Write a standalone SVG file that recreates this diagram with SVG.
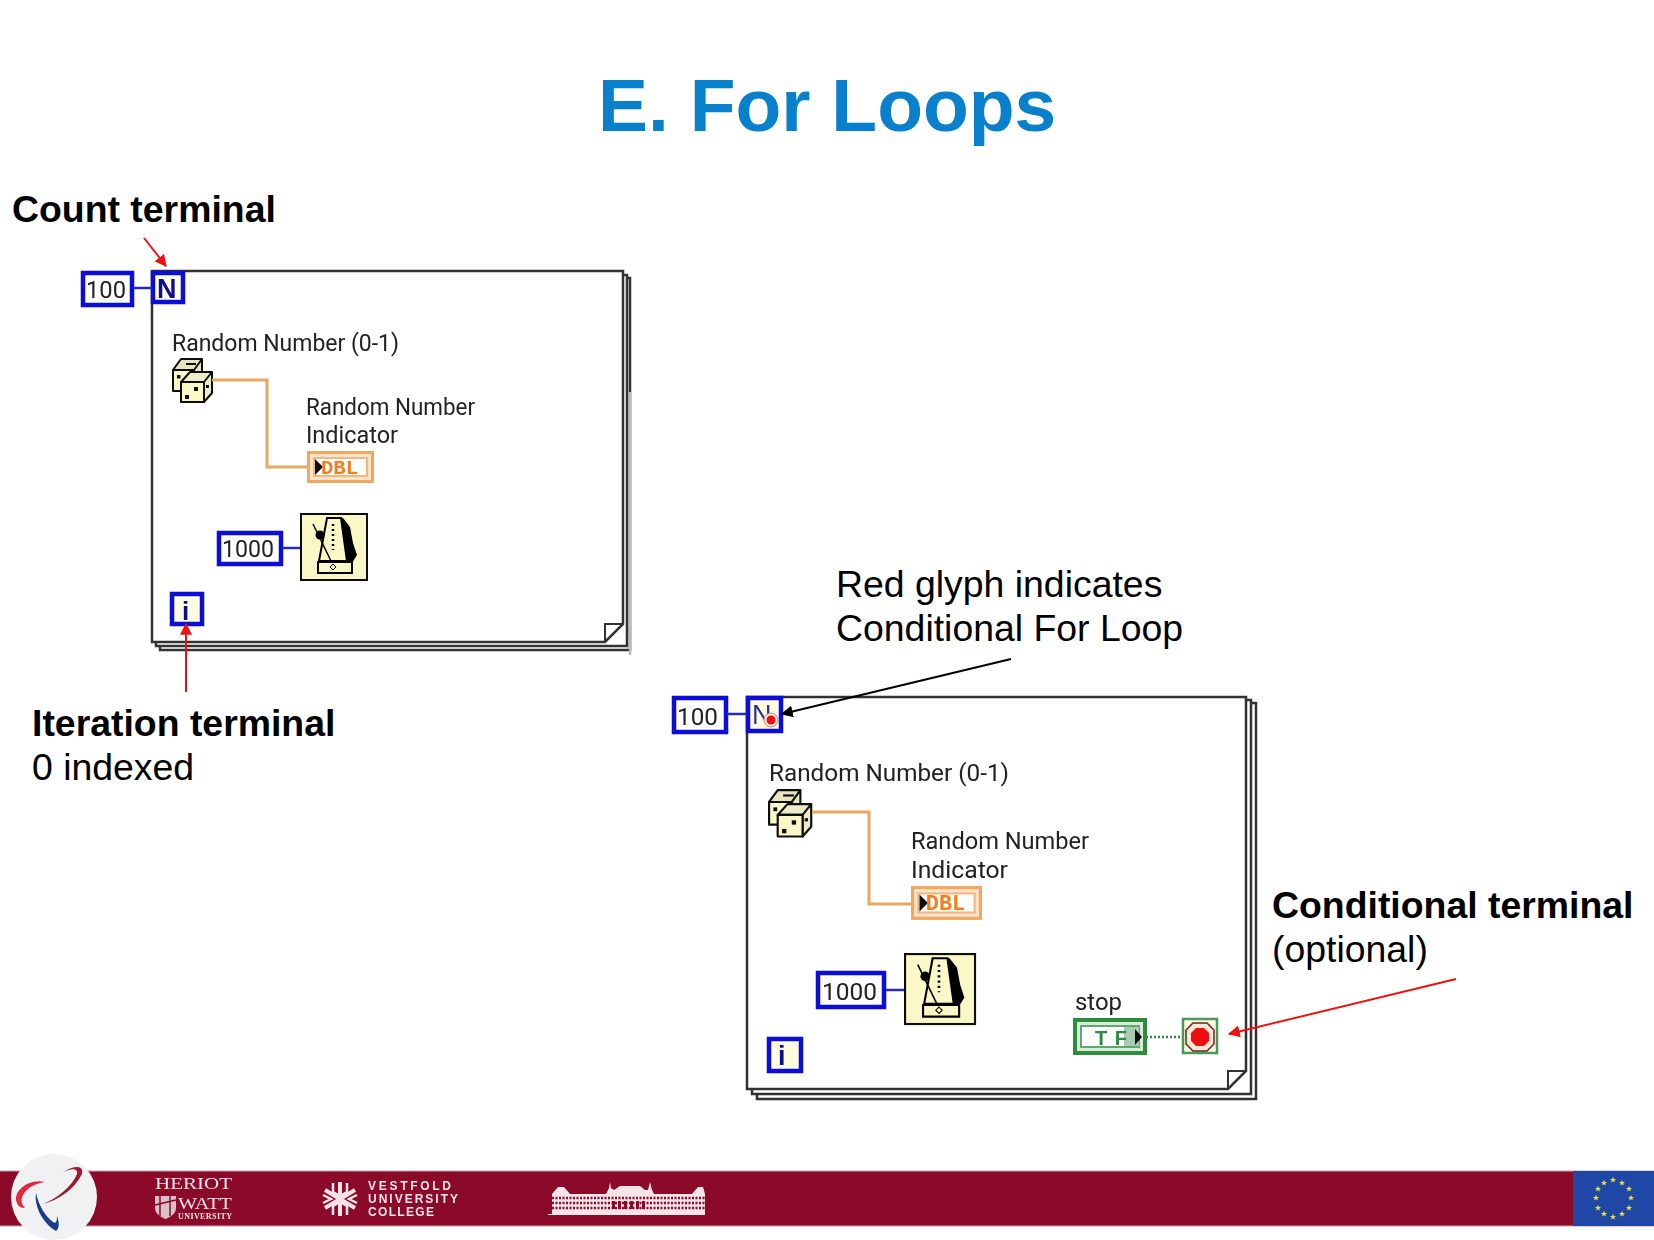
<svg xmlns="http://www.w3.org/2000/svg" width="1654" height="1240" viewBox="0 0 1654 1240">
<style>
.h{font-family:"Liberation Sans",Arial,sans-serif;font-size:37.4px;fill:#000}
.b{font-weight:bold}
.t{font-family:"Liberation Sans",Arial,sans-serif;font-size:75px;font-weight:bold;fill:#0880cc}
.lv{font-family:Roboto,"Noto Sans",sans-serif;font-size:23px;fill:#222}
.lv2{font-family:Roboto,"Noto Sans",sans-serif;font-size:24px;fill:#222}
.num{fill:#fff;stroke:#0808d8;stroke-width:4.5}
.tm{fill:#fffde0;stroke:#0808d8;stroke-width:4.5}
.wb{stroke:#2a2ab8;stroke-width:2.5;fill:none}
.wo{stroke:#e8a860;stroke-width:3;fill:none}
.fr{fill:none;stroke:#333;stroke-width:2.5}
.red{stroke:#f01010;stroke-width:2;fill:none}
.blk{stroke:#000;stroke-width:2;fill:none}
.wt{fill:#f4e4e8}
.hw{font-family:"Liberation Serif",serif;fill:#f4e4e8}
.vu{font-family:"Liberation Sans",sans-serif;font-weight:bold;fill:#f4e4e8;font-size:12px}
.star{fill:#e8e040}
</style>
<defs>
<filter id="soft" x="-2%" y="-2%" width="104%" height="104%"><feGaussianBlur stdDeviation="0.45"/></filter>
<marker id="ar2" viewBox="0 0 10 10" refX="9" refY="5" markerWidth="12" markerHeight="12" markerUnits="userSpaceOnUse" orient="auto"><path d="M0 0L10 5L0 10z" fill="#f01010"/></marker>
<marker id="ab" viewBox="0 0 10 10" refX="9" refY="5" markerWidth="12" markerHeight="12" markerUnits="userSpaceOnUse" orient="auto"><path d="M0 0L10 5L0 10z" fill="#000"/></marker>
<path id="st" class="star" d="M0 -3.2L.9 -1H3.100L1.300 .4L2 2.600L0 1.300L-2 2.600L-1.300 .4L-3.100 -1H-.9z"/>
<g id="dice" stroke="#111" stroke-width="2" stroke-linejoin="round">
<path d="M1 12L9 1H30L22 12zM22 12L30 1V22L22 33z" fill="#e8e4c0"/><rect x="1" y="12" width="21" height="21" fill="#fbf8c8"/>
<path d="M9 24L18 14H40L32 24zM32 24L40 14V35L32 44z" fill="#eeeacc"/><rect x="9" y="24" width="23" height="20" fill="#fbf8c8"/>
<g fill="#111" stroke="none"><rect x="13" y="37" width="4" height="4"/><rect x="22" y="29" width="4" height="4"/><rect x="5" y="17" width="3.500" height="3.500"/><rect x="34" y="27" width="3" height="3"/><rect x="14" y="5" width="10" height="2"/></g>
</g>
<g id="metro">
<rect x="1" y="1" width="66" height="66" fill="#fbf8c8" stroke="#111" stroke-width="2"/>
<path d="M26 5H43L50 14L53 30L57 42L52 50H44z" fill="#000"/>
<path d="M27 5H41L47 48H19z" fill="#fbf8c8" stroke="#000" stroke-width="2"/>
<path d="M13 11L31 48" stroke="#000" stroke-width="1.500"/>
<circle cx="20" cy="22" r="4.500" fill="#000"/>
<path d="M33 11V37" stroke="#000" stroke-width="2.500" stroke-dasharray="2 3"/>
<path d="M18 49H52V60H18z" fill="#fbf8c8" stroke="#000" stroke-width="2"/>
<path d="M33 51L36 54L33 57L30 54z" fill="none" stroke="#000"/>
</g>
<g id="dbl">
<rect x="1.500" y="1.500" width="64" height="29" fill="#fde3c8" stroke="#f0a860" stroke-width="3"/>
<rect x="7" y="7" width="53" height="18" fill="#fff" stroke="#f0b880" stroke-width="2"/>
<path d="M8 8L16 16L8 24z" fill="#111"/>
<text x="14" y="23" font-family="Liberation Mono,monospace" font-size="20" font-weight="bold" fill="#f08020" textLength="37" lengthAdjust="spacingAndGlyphs">DBL</text>
</g>
</defs>

<text class="t" x="598" y="131">E. For Loops</text>
<text class="h b" x="12" y="222">Count terminal</text>
<text class="h b" x="32" y="736">Iteration terminal</text>
<text class="h" x="32" y="780">0 indexed</text>
<text class="h" x="836" y="597">Red glyph indicates</text>
<text class="h" x="836" y="641">Conditional For Loop</text>
<text class="h b" x="1272" y="918">Conditional terminal</text>
<text class="h" x="1272" y="962">(optional)</text>

<g id="loop1" filter="url(#soft)">
<path class="fr" d="M623 275H627V646H156V642"/>
<path class="fr" d="M627 278H630V650H160V646"/>
<path d="M630 392V655" stroke="#bbb" stroke-width="2.500" fill="none"/>
<path class="fr" d="M152 271H623V624L605 642H152z" fill="#fff"/>
<path d="M605 641V624H622" fill="none" stroke="#333" stroke-width="2"/>
<g id="l1-num100"><rect class="num" x="83" y="273" width="49" height="32"/><text class="lv" x="86" y="298" textLength="40" lengthAdjust="spacingAndGlyphs">100</text></g>
<g id="l1-N"><rect class="tm" x="153" y="273" width="30" height="29"/><text x="157" y="298" font-family="Liberation Sans,sans-serif" font-weight="bold" font-size="27" fill="#101090">N</text></g>
<g id="l1-dice"><text class="lv" x="172" y="351" textLength="227" lengthAdjust="spacingAndGlyphs">Random Number (0-1)</text><use href="#dice" transform="translate(172,358)"/></g>
<g id="l1-ind"><text class="lv" x="306" y="415" textLength="169" lengthAdjust="spacingAndGlyphs">Random Number</text><text class="lv" x="306" y="443" textLength="92" lengthAdjust="spacingAndGlyphs">Indicator</text><use href="#dbl" transform="translate(307,451)"/></g>
<g id="l1-1000"><rect class="num" x="219" y="533" width="62" height="31"/><text class="lv" x="222" y="557" textLength="52" lengthAdjust="spacingAndGlyphs">1000</text></g>
<g id="l1-wait"><use href="#metro" transform="translate(300,513)"/></g>
<g id="l1-i"><rect class="tm" x="172" y="594" width="30" height="30"/><text x="182" y="620" font-family="Liberation Sans,sans-serif" font-weight="bold" font-size="26" fill="#101090">i</text></g>
</g>

<g id="loop2" filter="url(#soft)">
<path class="fr" d="M1246 700H1251V1094H752V1089"/>
<path class="fr" d="M1251 703H1256V1099H757V1094"/>
<path class="fr" d="M747 697H1246V1071L1228 1089H747z" fill="#fff"/>
<path d="M1228 1088V1071H1246" fill="none" stroke="#333" stroke-width="2"/>
<g id="l2-num100"><rect class="num" x="674" y="698" width="52" height="34"/><text class="lv2" x="677" y="725" textLength="41" lengthAdjust="spacingAndGlyphs">100</text></g>
<g id="l2-N"><rect class="tm" x="748" y="698" width="33" height="33"/><text x="752" y="724" font-family="Liberation Sans,sans-serif" font-size="27" fill="#303090">N</text><circle cx="771" cy="720" r="7" fill="#f8e8d8" stroke="#b09090"/><circle cx="771" cy="720" r="4.500" fill="#f01010"/></g>
<g id="l2-dice"><text class="lv2" x="769" y="781" textLength="240" lengthAdjust="spacingAndGlyphs">Random Number (0-1)</text><use href="#dice" transform="translate(768,789) scale(1.08)"/></g>
<g id="l2-ind"><text class="lv2" x="911" y="849" textLength="178" lengthAdjust="spacingAndGlyphs">Random Number</text><text class="lv2" x="911" y="878" textLength="97" lengthAdjust="spacingAndGlyphs">Indicator</text><use href="#dbl" transform="translate(911,886) scale(1.06,1.06)"/></g>
<g id="l2-1000"><rect class="num" x="818" y="973" width="66" height="34"/><text class="lv2" x="822" y="1000" textLength="55" lengthAdjust="spacingAndGlyphs">1000</text></g>
<g id="l2-wait"><use href="#metro" transform="translate(904,953) scale(1.06)"/></g>
<g id="l2-i"><rect class="tm" x="769" y="1039" width="32" height="32" fill="#fff"/><text x="778" y="1065" font-family="Liberation Sans,sans-serif" font-weight="bold" font-size="27" fill="#101090">i</text></g>
<g id="l2-stop"><text class="lv2" x="1075" y="1010" textLength="47" lengthAdjust="spacingAndGlyphs">stop</text>
<rect x="1075" y="1020" width="70" height="33" fill="#d8ecd8" stroke="#2e8b40" stroke-width="4"/>
<rect x="1081" y="1026" width="58" height="21" fill="#fff" stroke="#60a870" stroke-width="2"/>
<rect x="1124" y="1027" width="15" height="19" fill="#a8cdb0"/>
<text x="1095" y="1045" font-family="Liberation Sans,sans-serif" font-weight="bold" font-size="20" fill="#2e8b40" textLength="32">TF</text>
<path d="M1135 1029L1142 1037L1135 1045z" fill="#111"/></g>
<g id="l2-cond"><rect x="1183" y="1019" width="34" height="34" fill="#fffde0" stroke="#4a9a5a" stroke-width="2.500"/>
<path d="M1193 1023H1207L1214 1030V1044L1207 1051H1193L1186 1044V1030z" fill="#fbe8d8" stroke="#702020" stroke-width="1.500"/>
<path d="M1196 1028H1204L1209 1033V1041L1204 1046H1196L1191 1041V1033z" fill="#f01010"/></g>
</g>

<g id="connectors">
<path class="wb" d="M133 288H152"/>
<path class="wo" d="M212 380H267V467H307"/>
<path class="wb" d="M282 548H300"/>
<path class="wb" d="M727 714H747"/>
<path class="wo" d="M812 812H869V904H911"/>
<path class="wb" d="M886 990H904"/>
<path d="M1146 1037H1182" stroke="#2e8b40" stroke-width="2.500" stroke-dasharray="2 2" fill="none"/>
<path class="red" marker-end="url(#ar2)" d="M144 238L166 266"/>
<path class="red" marker-end="url(#ar2)" d="M186 692V624"/>
<path class="blk" marker-end="url(#ab)" d="M1011 659L782 714"/>
<path class="red" marker-end="url(#ar2)" d="M1456 979L1229 1034"/>
</g>

<g id="footer">
<rect x="0" y="1171" width="1654" height="55" fill="#8b0a2a"/>
<path d="M0 1171H1654M0 1226H1654" stroke="#c8a0a8" stroke-width="1"/>
<rect x="1573" y="1171" width="81" height="55" fill="#1f47a5"/>
<g id="eu">
<use href="#st" x="1613" y="1180"/><use href="#st" x="1622" y="1183"/><use href="#st" x="1629" y="1189"/><use href="#st" x="1631" y="1198"/><use href="#st" x="1629" y="1208"/><use href="#st" x="1622" y="1214"/><use href="#st" x="1613" y="1217"/><use href="#st" x="1604" y="1214"/><use href="#st" x="1598" y="1208"/><use href="#st" x="1596" y="1198"/><use href="#st" x="1598" y="1189"/><use href="#st" x="1604" y="1183"/>
</g>
<g id="logo">
<circle cx="54" cy="1197" r="43" fill="#f0f1f3"/>
<path d="M43 1204C58 1200 74 1190 82 1174C84 1166 76 1164 63 1172C72 1168 78 1168 77 1174C72 1186 58 1198 43 1204z" fill="#9a1c30"/>
<path d="M45 1182C28 1178 12 1192 17 1203C18 1207 22 1208 25 1208C20 1203 20 1196 28 1189C33 1185 38 1183 45 1182z" fill="#e02840"/>
<path d="M36 1193C34 1208 44 1224 56 1231C60 1228 59 1222 57 1216C57 1222 56 1224 53 1222C45 1216 39 1206 36 1193z" fill="#1c3a8c"/>
</g>
<g id="hw">
<text class="hw" x="155" y="1189" font-size="17" textLength="77" lengthAdjust="spacingAndGlyphs">HERIOT</text>
<text class="hw" x="178" y="1208.500" font-size="17" textLength="54" lengthAdjust="spacingAndGlyphs">WATT</text>
<text class="hw" x="178" y="1219" font-size="8" font-weight="bold" textLength="54">UNIVERSITY</text>
<path d="M155 1196H176V1208C176 1214 170 1217 165.500 1219C161 1217 155 1214 155 1208z" fill="#d8c0c8"/>
<path d="M155 1205L176 1200M160 1196V1216M170 1196V1216" stroke="#8b0a2a" stroke-width="1.500"/>
</g>
<g id="vuc">
<g stroke="#f4e4e8" stroke-width="4" fill="none"><path d="M340 1182V1216M325 1190L355 1208M325 1208L355 1190"/><path d="M333 1183V1192L340 1196L347 1192V1183M333 1215V1206L340 1202L347 1206V1215M323 1195L331 1199L323 1203M357 1195L349 1199L357 1203" stroke-width="2.500"/></g>
<text class="vu" x="368" y="1190" textLength="83">VESTFOLD</text>
<text class="vu" x="368" y="1203" textLength="90">UNIVERSITY</text>
<text class="vu" x="368" y="1216" textLength="66">COLLEGE</text>
</g>
<g id="bme">
<path class="wt" d="M552 1214V1194L558 1187H564L570 1194H606L609 1188L610 1182L611 1188L614 1190L620 1186H640L645 1190L648 1190L650 1182L652 1190L654 1194H692L698 1187H703L705 1194V1214z"/>
<path d="M548 1214.500H705" stroke="#f4e4e8"/>
<path d="M552 1198H705M552 1203H705M552 1208H705" stroke="#8b0a2a" stroke-width="2.500" stroke-dasharray="2 1.500"/>
<path d="M612 1205H648" stroke="#8b0a2a" stroke-width="8" stroke-dasharray="3 3"/>
</g>
</g>
</svg>
